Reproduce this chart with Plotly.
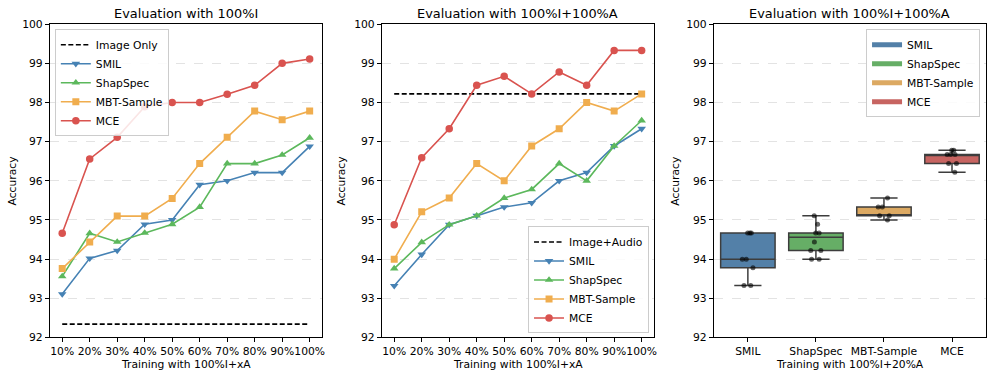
import plotly.graph_objects as go

# x categories (percentage of audio used in training)
x_labels = ["10%", "20%", "30%", "40%", "50%", "60%", "70%", "80%", "90%", "100%"]
methods = ["SMIL", "ShapSpec", "MBT-Sample", "MCE"]

# Evaluation with 100%I
img_smil = [93.11, 94.02, 94.22, 94.89, 95.00, 95.90, 96.00, 96.21, 96.21, 96.88]
img_shap = [93.56, 94.66, 94.44, 94.67, 94.89, 95.33, 96.44, 96.44, 96.66, 97.10]
img_mbt = [93.76, 94.44, 95.10, 95.10, 95.55, 96.44, 97.11, 97.78, 97.56, 97.78]
img_mce = [94.66, 96.56, 97.11, 97.89, 98.00, 98.00, 98.21, 98.44, 99.00, 99.11]
image_only = 92.34

# Evaluation with 100%I+100%A
ia_smil = [93.32, 94.12, 94.88, 95.11, 95.33, 95.44, 96.00, 96.21, 96.89, 97.33]
ia_shap = [93.76, 94.43, 94.88, 95.11, 95.56, 95.78, 96.44, 96.00, 96.89, 97.54]
ia_mbt = [94.00, 95.21, 95.56, 96.44, 96.00, 96.89, 97.33, 98.00, 97.78, 98.22]
ia_mce = [94.88, 96.59, 97.33, 98.44, 98.67, 98.22, 98.78, 98.44, 99.33, 99.33]
image_audio = 98.22

# Training with 100%I+20%A: individual runs
runs_smil = [94.67, 94.67, 94.67, 94.00, 94.00, 93.78, 93.33, 93.33]
runs_shap = [95.11, 94.89, 94.67, 94.67, 94.44, 94.22, 94.22, 94.00, 94.00]
runs_mbt = [95.56, 95.33, 95.33, 95.11, 95.11, 95.00]
runs_mce = [96.78, 96.78, 96.67, 96.67, 96.67, 96.44, 96.44, 96.22]
# box summaries as drawn
box_low = [93.33, 94.00, 95.00, 96.22]
box_q1 = [93.78, 94.22, 95.11, 96.44]
box_med = [94.00, 94.56, 95.11, 96.67]
box_q3 = [94.67, 94.67, 95.33, 96.67]
box_high = [94.67, 95.11, 95.56, 96.78]

line_colors = ["#4682b4", "#5cb85c", "#f0ad4e", "#d9534f"]
box_colors = ["#5380a8", "#66ae66", "#dca962", "#c76461"]
symbols = ["triangle-down", "triangle-up", "square", "circle"]
sizes = [7.5, 7.5, 7, 7.5]

FS = 10.75
fig = go.Figure()

panels = [
    ("x", "y", "legend", "Image Only", image_only, [img_smil, img_shap, img_mbt, img_mce]),
    ("x2", "y2", "legend2", "Image+Audio", image_audio, [ia_smil, ia_shap, ia_mbt, ia_mce]),
]
for xa, ya, lg, base_name, base_val, series in panels:
    fig.add_trace(go.Scatter(
        x=[x_labels[0], x_labels[-1]], y=[base_val, base_val], mode="lines",
        name=base_name, line=dict(color="black", width=1.6, dash="5px,2.5px"),
        xaxis=xa, yaxis=ya, legend=lg))
    for m, vals, c, s, sz in zip(methods, series, line_colors, symbols, sizes):
        fig.add_trace(go.Scatter(
            x=x_labels, y=vals, mode="lines+markers", name=m,
            line=dict(color=c, width=1.6),
            marker=dict(symbol=s, size=sz, color=c),
            xaxis=xa, yaxis=ya, legend=lg))

# panel 3: boxes
for i, m in enumerate(methods):
    fig.add_trace(go.Box(
        x=[m], q1=[box_q1[i]], median=[box_med[i]], q3=[box_q3[i]],
        lowerfence=[box_low[i]], upperfence=[box_high[i]],
        fillcolor=box_colors[i], line=dict(color="#3d3d3d", width=1.5),
        whiskerwidth=0.5, width=0.8, boxpoints=False, showlegend=False,
        xaxis="x3", yaxis="y3"))
for m, runs in zip(methods, [runs_smil, runs_shap, runs_mbt, runs_mce]):
    fig.add_trace(go.Box(
        x=[m] * len(runs), y=runs, boxpoints="all", jitter=0.25, pointpos=0,
        fillcolor="rgba(0,0,0,0)", line=dict(width=0), width=0.8,
        marker=dict(color="rgba(0,0,0,0.6)", size=5),
        showlegend=False, hoverinfo="y", xaxis="x3", yaxis="y3"))
for m, c in zip(methods, box_colors):
    fig.add_trace(go.Scatter(
        x=[None], y=[None], mode="lines", name=m,
        line=dict(color=c, width=5), xaxis="x3", yaxis="y3", legend="legend3"))

H = 377.0
W = 997.0


def py(px):
    # target pixel row (from top) -> paper y; the photographed page comes out
    # slightly squeezed vertically, so compensate for that
    return 1 - ((px - 5.9) / 0.9615) / H


ydom = [py(336), py(24)]
xdoms = [[50 / W, 323 / W], [383 / W, 656 / W], [716 / W, 989 / W]]

axis_common = dict(showline=True, linecolor="black", linewidth=1, mirror=True,
                   ticks="outside", ticklen=4, tickwidth=1, tickcolor="black",
                   tickfont=dict(size=FS, color="black"), zeroline=False)
yax = dict(axis_common, range=[92, 100], dtick=1, showgrid=True,
           gridcolor="#e3e3e3", griddash="dash", gridwidth=1, domain=ydom)
xcat = dict(axis_common, type="category", range=[-0.45, 9.45], showgrid=False,
            categoryorder="array", categoryarray=x_labels, tickangle=0)

legend_common = dict(bgcolor="rgba(255,255,255,0.85)", bordercolor="#cccccc",
                     borderwidth=1, itemwidth=30, font=dict(size=FS, color="black"))

fig.update_layout(
    width=997, height=377, margin=dict(l=0, r=0, t=0, b=0),
    paper_bgcolor="white", plot_bgcolor="white",
    font=dict(family="DejaVu Sans", size=FS, color="black"),
    boxmode="overlay",
    xaxis=dict(xcat, domain=xdoms[0], anchor="y"),
    yaxis=dict(yax, anchor="x"),
    xaxis2=dict(xcat, domain=xdoms[1], anchor="y2"),
    yaxis2=dict(yax, anchor="x2"),
    xaxis3=dict(axis_common, type="category", range=[-0.5, 3.5], showgrid=False,
                categoryorder="array", categoryarray=methods, tickangle=0,
                domain=xdoms[2], anchor="y3"),
    yaxis3=dict(yax, anchor="x3"),
    legend=dict(legend_common, x=55 / W, y=py(29), xanchor="left", yanchor="top"),
    legend2=dict(legend_common, x=651 / W, y=py(332), xanchor="right", yanchor="bottom"),
    legend3=dict(legend_common, x=983 / W, y=py(29), xanchor="right", yanchor="top"),
)

titles = ["Evaluation with 100%I", "Evaluation with 100%I+100%A", "Evaluation with 100%I+100%A"]
xtitles = ["Training with 100%I+xA", "Training with 100%I+xA", "Training with 100%I+20%A"]
ylabel_x = [12.7, 342.7, 678.0]
for dom, t, xt, yx in zip(xdoms, titles, xtitles, ylabel_x):
    cx = (dom[0] + dom[1]) / 2
    fig.add_annotation(text=t, x=cx, y=py(13.5), xref="paper", yref="paper",
                       xanchor="center", yanchor="middle", showarrow=False,
                       font=dict(size=12.9, color="black"))
    fig.add_annotation(text=xt, x=cx, y=py(363), xref="paper", yref="paper",
                       xanchor="center", yanchor="middle", showarrow=False,
                       font=dict(size=FS, color="black"))
    fig.add_annotation(text="Accuracy", x=yx / W, y=(ydom[0] + ydom[1]) / 2,
                       xref="paper", yref="paper", xanchor="center", yanchor="middle",
                       textangle=-90, showarrow=False, font=dict(size=FS, color="black"))

page_fix = (
    "var s=document.documentElement.style;s.margin='0';s.padding='0';s.overflow='hidden';"
    "var b=document.body.style;b.margin='0';b.padding='0';b.overflow='hidden';"
)
fig.write_html("out.html", config={"displayModeBar": False}, post_script=page_fix)
